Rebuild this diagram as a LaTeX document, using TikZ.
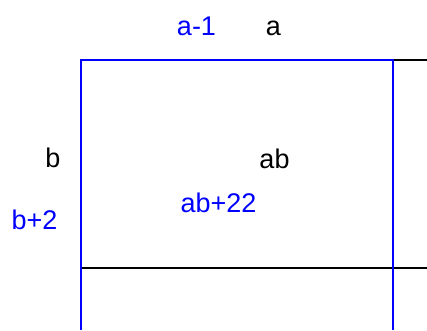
\documentclass[tikz,border=0pt]{standalone}
\usepackage{fontspec}
\setmainfont{Liberation Sans}
\definecolor{pblue}{RGB}{0,0,255}
\begin{document}
\begin{tikzpicture}[x=1pt,y=-1pt,
  lbl/.style={anchor=base,inner sep=0pt,font=\fontsize{27}{32}\selectfont},
  bl/.style={lbl,text=pblue},
  bk/.style={lbl,text=black},
  bline/.style={draw=pblue,line width=1.6pt},
  kline/.style={draw=black,line width=1.6pt}]
\useasboundingbox (0,0) rectangle (427,330);
\coordinate (tl) at (81,60);
\coordinate (tr) at (393,60);
\coordinate (bl0) at (81,330);
\coordinate (br0) at (393,330);
\coordinate (re) at (427,60);
\coordinate (ml) at (81,268);
\coordinate (mr) at (427,268);
\draw[kline] (tr) -- (re);
\draw[kline] (ml) -- (mr);
\draw[bline] (bl0) -- (tl) -- (tr) -- (br0);
\node[bl] (am1) at (196.5,35) {a-1};
\node[bk] (a) at (273.5,35) {a};
\node[bk] (b) at (53,167) {b};
\node[bk] (ab) at (274.5,168) {ab};
\node[bl] (ab22) at (218.5,212) {ab+22};
\node[bl] (bp2) at (34.5,229) {b+2};
\end{tikzpicture}
\end{document}
